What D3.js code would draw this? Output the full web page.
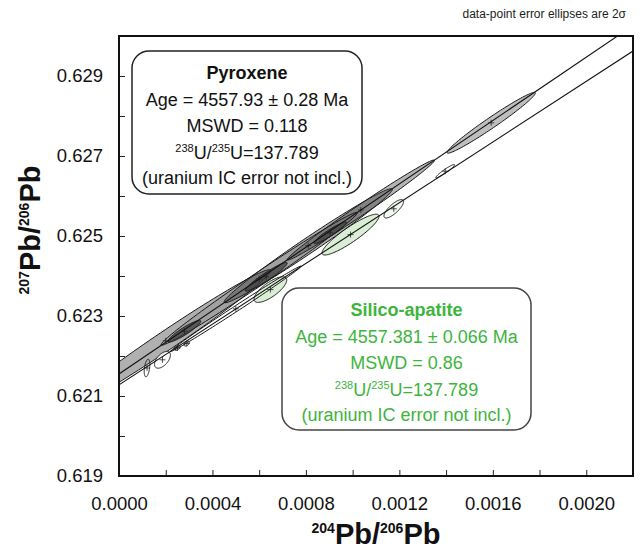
<!DOCTYPE html>
<html><head><meta charset="utf-8">
<script src="https://cdn.jsdelivr.net/npm/d3@7"></script>
<style>body{margin:0;background:#fff}svg{display:block;font-family:"Liberation Sans",Arial,sans-serif}</style>
</head><body><svg id="c" width="642" height="551"></svg>
<script>
// ---------- data ----------
const xDomain = [0, 0.0022];
const yDomain = [0.619, 0.630];
const xTicks = [0,0.0002,0.0004,0.0006,0.0008,0.0010,0.0012,0.0014,0.0016,0.0018,0.0020,0.0022];
const xTickLabels = [0,0.0004,0.0008,0.0012,0.0016,0.0020];
const yTicks = [0.619,0.620,0.621,0.622,0.623,0.624,0.625,0.626,0.627,0.628,0.629];
const yTickLabels = [0.619,0.621,0.623,0.625,0.627,0.629];

// Pyroxene data-point ellipses: centre, 2-sigma half extents, correlation
const pyxX   = [0.00020, 0.00081, 0.001035, 0.00060, 0.00063, 0.000904, 0.00028, 0.001593];
const pyxY   = [0.62238, 0.624758, 0.625649, 0.62393, 0.62398, 0.62508, 0.62262, 0.62783];
const pyxSX  = [0.00045, 0.00036, 0.000315, 0.00042, 0.00009, 0.00007, 0.00007, 0.000189];
const pyxSY  = [0.00178, 0.001426, 0.00125, 0.00166, 0.00036, 0.00027, 0.00027, 0.00076];
const pyxRho = [0.987, 0.987, 0.992, 0.993, 0.95, 0.94, 0.92, 0.978];
const pyxShade = [0.40, 0.40, 0.38, 0.12, 0.72, 0.68, 0.72, 0.33];

// Silico-apatite data-point ellipses
const apX   = [0.000991, 0.000648, 0.001176, 0.001396, 0.000186, 0.00025, 0.00029, 0.00050, 0.00012];
const apY   = [0.625035, 0.62366, 0.62568, 0.62662, 0.621905, 0.62220, 0.62231, 0.62318, 0.62170];
const apSX  = [0.000122, 0.00007, 0.000042, 0.00004, 0.000034, 0.000012, 0.000012, 0.00028, 0.000012];
const apSY  = [0.00051, 0.00032, 0.00023, 0.000167, 0.00021, 0.00006, 0.00006, 0.00107, 0.00022];
const apRho = [0.90, 0.75, 0.78, 0.95, 0.55, 0.50, 0.50, 0.997, 0.40];
const apFill = ["#d3ebcf","#d3ebcf","#eef7ec","#ffffff","#ffffff","#ffffff","#ffffff","none","none"];

// Isochron lines (endpoints)
const pyxLineX = [0, 0.0022], pyxLineY = [0.62155, 0.630262];
const apLineX  = [0, 0.0022], apLineY  = [0.62128, 0.629625];

// ---------- drawing ----------
const svg = d3.select("#c");
const L = 119, R = 633, T = 36, B = 476;
const x = d3.scaleLinear().domain(xDomain).range([L, R]);
const y = d3.scaleLinear().domain(yDomain).range([B, T]);

svg.append("defs").append("clipPath").attr("id","clip")
  .append("rect").attr("x",L).attr("y",T).attr("width",R-L).attr("height",B-T);
const plot = svg.append("g").attr("clip-path","url(#clip)");

function ellipsePts(cx, cy, ax, ay, rho){
  const s = Math.sqrt(1 - rho*rho), pts = [];
  for (let i = 0; i < 120; i++){
    const t = i / 120 * 2 * Math.PI;
    pts.push([x(cx + ax*Math.cos(t)), y(cy + ay*(rho*Math.cos(t) + s*Math.sin(t)))]);
  }
  return pts;
}
const closed = d3.line().curve(d3.curveLinearClosed);

// pyroxene ellipses
pyxX.forEach((cx,i)=>{
  plot.append("path").attr("d", closed(ellipsePts(cx, pyxY[i], pyxSX[i], pyxSY[i], pyxRho[i])))
    .attr("fill","#3a3a3a").attr("fill-opacity", pyxShade[i])
    .attr("stroke","#1a1a1a").attr("stroke-width",1);
});
// apatite ellipses
apX.forEach((cx,i)=>{
  plot.append("path").attr("d", closed(ellipsePts(cx, apY[i], apSX[i], apSY[i], apRho[i])))
    .attr("fill", apFill[i]).attr("fill-opacity", apFill[i]==="none"?0:0.85)
    .attr("stroke","#1a1a1a").attr("stroke-width",1);
});
// centre crosses
const cross = (cx,cy)=>{
  plot.append("path").attr("d",`M${x(cx)-3},${y(cy)}H${x(cx)+3}M${x(cx)},${y(cy)-3}V${y(cy)+3}`)
    .attr("stroke","#222").attr("stroke-width",0.8);
};
pyxX.forEach((cx,i)=>cross(cx,pyxY[i]));
apX.forEach((cx,i)=>cross(cx,apY[i]));

// isochrons
const ln = d3.line().x(d=>x(d[0])).y(d=>y(d[1]));
plot.append("path").attr("d", ln(pyxLineX.map((v,i)=>[v,pyxLineY[i]])))
  .attr("stroke","#111").attr("stroke-width",1.1).attr("fill","none");
plot.append("path").attr("d", ln(apLineX.map((v,i)=>[v,apLineY[i]])))
  .attr("stroke","#111").attr("stroke-width",1.1).attr("fill","none");

// axes
const fs = 18.5;
const ax = svg.append("g").attr("transform",`translate(0,${B})`)
  .call(d3.axisBottom(x).tickValues(xTicks).tickSize(-6).tickPadding(21)
    .tickFormat(d => xTickLabels.some(v=>Math.abs(v-d)<1e-9) ? d3.format(".4f")(d) : ""));
const ay = svg.append("g").attr("transform",`translate(${L},0)`)
  .call(d3.axisLeft(y).tickValues(yTicks).tickSize(-6).tickPadding(16)
    .tickFormat(d => yTickLabels.some(v=>Math.abs(v-d)<1e-9) ? d3.format(".3f")(d) : ""));
[ax, ay].forEach(g=>{
  g.select(".domain").remove();
  g.selectAll("line").attr("stroke","#222").attr("stroke-width",1);
  g.selectAll("text").attr("font-size",fs).attr("fill","#111")
    .attr("font-family",'"Liberation Sans",Arial,sans-serif');
});

// frame
svg.append("rect").attr("x",L).attr("y",T).attr("width",R-L).attr("height",B-T)
  .attr("fill","none").attr("stroke","#111").attr("stroke-width",2);

// axis titles
function isoLabel(g, a, b){
  const t = g.append("text").attr("text-anchor","middle").attr("font-weight","bold").attr("fill","#111");
  t.append("tspan").attr("font-size",14).attr("dy",-11).text(a);
  t.append("tspan").attr("font-size",29).attr("dy",11).text("Pb/");
  t.append("tspan").attr("font-size",14).attr("dy",-11).text(b);
  t.append("tspan").attr("font-size",29).attr("dy",11).text("Pb");
  return t;
}
isoLabel(svg.append("g").attr("transform","translate(376,544)"), "204", "206");
isoLabel(svg.append("g").attr("transform","translate(40,230) rotate(-90)"), "207", "206");

// note
svg.append("text").attr("x",626).attr("y",18).attr("text-anchor","end")
  .attr("font-size",12).attr("fill","#222").text("data-point error ellipses are 2σ");

// result boxes
function box(bx, by, bw, bh, stroke, color, title, lines){
  svg.append("rect").attr("x",bx).attr("y",by).attr("width",bw).attr("height",bh)
    .attr("rx",17).attr("ry",17).attr("fill","#fff").attr("stroke",stroke).attr("stroke-width",1.5);
  const cx = bx + bw/2;
  const base = [by+28, by+55, by+81, by+108, by+133];
  svg.append("text").attr("x",cx).attr("y",base[0]).attr("text-anchor","middle")
    .attr("font-weight","bold").attr("font-size",18).attr("fill",color).text(title);
  svg.append("text").attr("x",cx).attr("y",base[1]).attr("text-anchor","middle")
    .attr("font-size",18).attr("fill",color).text(lines[0]);
  svg.append("text").attr("x",cx).attr("y",base[2]).attr("text-anchor","middle")
    .attr("font-size",18).attr("fill",color).text(lines[1]);
  const u = svg.append("text").attr("x",cx).attr("y",base[3]).attr("text-anchor","middle")
    .attr("font-size",18).attr("fill",color);
  u.append("tspan").attr("font-size",11).attr("dy",-7).text("238");
  u.append("tspan").attr("dy",7).text("U/");
  u.append("tspan").attr("font-size",11).attr("dy",-7).text("235");
  u.append("tspan").attr("dy",7).text("U=137.789");
  svg.append("text").attr("x",cx).attr("y",base[4]).attr("text-anchor","middle")
    .attr("font-size",18).attr("fill",color).text(lines[2]);
}
box(132, 51, 230, 143, "#222", "#111", "Pyroxene",
  ["Age = 4557.93 ± 0.28 Ma", "MSWD = 0.118", "(uranium IC error not incl.)"]);
box(282, 288, 249, 142, "#444", "#3db53d", "Silico-apatite",
  ["Age = 4557.381 ± 0.066 Ma", "MSWD = 0.86", "(uranium IC error not incl.)"]);
</script>
</body></html>
